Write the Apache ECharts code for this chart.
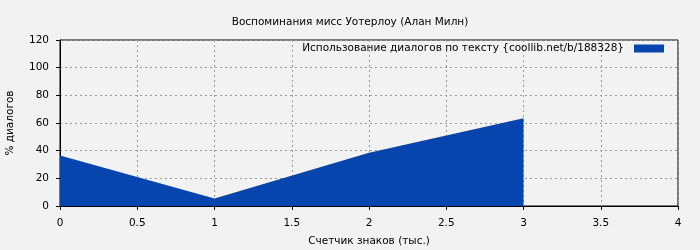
<!DOCTYPE html>
<html><head><meta charset="utf-8">
<script src="https://cdn.jsdelivr.net/npm/echarts@6/dist/echarts.min.js"></script>
<style>html,body{margin:0;padding:0;background:#f2f2f2}#c{width:700px;height:250px}</style>
</head><body><div id="c"></div>
<script>
const title = 'Воспоминания мисс Уотерлоу (Алан Милн)';
const seriesName = 'Использование диалогов по тексту {coollib.net/b/188328}';
const xName = 'Счетчик знаков (тыс.)';
const yName = '% диалогов';
const xValues = [0, 1, 2, 3];
const yValues = [36.5, 5.5, 38.5, 63.5];
const xTicks = [0, 0.5, 1, 1.5, 2, 2.5, 3, 3.5, 4];
const yTicks = [0, 20, 40, 60, 80, 100, 120];

const font = 'DejaVu Sans';
const fs = 10.5;
const chart = echarts.init(document.getElementById('c'), null, {renderer: 'canvas'});
chart.setOption({
  backgroundColor: '#f2f2f2',
  animation: false,
  textStyle: {fontFamily: font},
  title: {text: title, left: 'center', top: 12, textStyle: {fontFamily: font, fontSize: fs, fontWeight: 'normal', color: '#000'}},
  legend: {
    right: 31, top: 38, itemWidth: 30, itemHeight: 8, icon: 'rect', align: 'right', itemGap: 5,
    textStyle: {fontFamily: font, fontSize: fs, color: '#000', padding: [0, 5, 0, 0]},
    data: [{name: seriesName, icon: 'rect'}]
  },
  grid: {left: 60, right: 22, top: 40, bottom: 44, show: true, borderColor: '#000', borderWidth: 1,
    backgroundColor: 'transparent', containLabel: false, outerBoundsMode: 'none'},
  xAxis: {
    type: 'value', min: xTicks[0], max: xTicks[xTicks.length-1], interval: 0.5,
    name: xName, nameLocation: 'middle', nameGap: 30,
    nameTextStyle: {fontFamily: font, fontSize: fs, color: '#000'},
    axisLine: {show: true, lineStyle: {color: '#000'}},
    axisTick: {show: true, length: 4, lineStyle: {color: '#000'}},
    axisLabel: {fontFamily: font, fontSize: fs, color: '#000', margin: 12},
    splitLine: {show: true, lineStyle: {color: '#999', type: [2, 3]}}
  },
  yAxis: {
    type: 'value', min: yTicks[0], max: yTicks[yTicks.length-1], interval: 20,
    name: yName, nameLocation: 'middle', nameGap: 44,
    nameTextStyle: {fontFamily: font, fontSize: fs, color: '#000'},
    axisLine: {show: true, lineStyle: {color: '#000'}},
    axisTick: {show: true, length: 4, lineStyle: {color: '#000'}},
    axisLabel: {fontFamily: font, fontSize: fs, color: '#000', margin: 11},
    splitLine: {show: true, lineStyle: {color: '#999', type: [2, 3]}}
  },
  series: [{
    name: seriesName, type: 'line', showSymbol: false, symbol: 'none',
    data: xValues.map((x, i) => [x, yValues[i]]),
    color: '#0645ad',
    lineStyle: {width: 0, color: '#0645ad'},
    areaStyle: {color: '#0645ad', opacity: 1}
  }]
});
</script></body></html>
